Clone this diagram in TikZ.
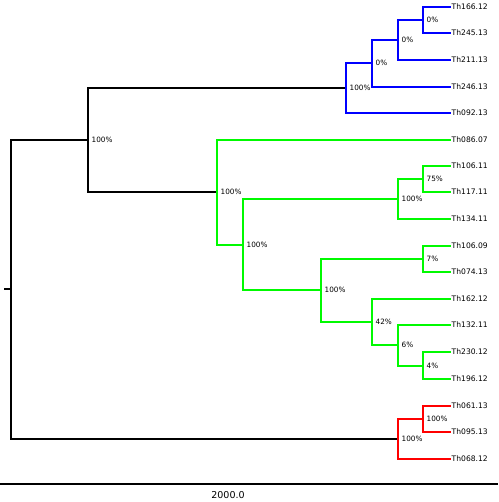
\documentclass[tikz,border=0pt]{standalone}
\usepackage{fontspec}
\setmainfont{DejaVu Sans}
\usepackage{tikz}
\usetikzlibrary{positioning,calc}
\usepackage{xcolor}
\definecolor{cladeblue}{RGB}{0,0,255}
\definecolor{cladegreen}{RGB}{0,250,0}
\definecolor{cladered}{RGB}{255,0,0}

\begin{document}
\begin{tikzpicture}[x=1pt, y=-1pt, line width=1.4pt,
        leaf/.style={anchor=west, inner sep=1pt, font=\fontsize{7.6}{9}\selectfont},
        pct/.style={anchor=west, inner sep=0pt, xshift=3pt, font=\fontsize{7.3}{8}\selectfont},
        elbow/.style={line cap=rect}]
        \useasboundingbox (0,0) rectangle (498,502);
        % leaves
        \node[leaf] (l1) at (450,7) {Th166.12};
        \node[leaf] (l2) at (450,33) {Th245.13};
        \node[leaf] (l3) at (450,60) {Th211.13};
        \node[leaf] (l4) at (450,87) {Th246.13};
        \node[leaf] (l5) at (450,113) {Th092.13};
        \node[leaf] (l6) at (450,140) {Th086.07};
        \node[leaf] (l7) at (450,166) {Th106.11};
        \node[leaf] (l8) at (450,192) {Th117.11};
        \node[leaf] (l9) at (450,219) {Th134.11};
        \node[leaf] (l10) at (450,246) {Th106.09};
        \node[leaf] (l11) at (450,272) {Th074.13};
        \node[leaf] (l12) at (450,299) {Th162.12};
        \node[leaf] (l13) at (450,325) {Th132.11};
        \node[leaf] (l14) at (450,352) {Th230.12};
        \node[leaf] (l15) at (450,379) {Th196.12};
        \node[leaf] (l16) at (450,406) {Th061.13};
        \node[leaf] (l17) at (450,432) {Th095.13};
        \node[leaf] (l18) at (450,459) {Th068.12};
        % inner nodes
        \coordinate (b4) at (423,20);
        \coordinate (b3) at (398,40);
        \coordinate (b2) at (372,63);
        \coordinate (b1) at (346,88);
        \coordinate (g5) at (423,179);
        \coordinate (g4) at (398,199);
        \coordinate (g8) at (423,259);
        \coordinate (g11) at (423,366);
        \coordinate (g10) at (398,345);
        \coordinate (g9) at (372,322);
        \coordinate (g7) at (321,290);
        \coordinate (g3) at (243,245);
        \coordinate (g1) at (217,192);
        \coordinate (top) at (88,140);
        \coordinate (r2) at (423,419);
        \coordinate (r1) at (398,439);
        \coordinate (root) at (11,289);
        \coordinate (stub) at (5,289);
        % backbone
        \draw[black, elbow] (root) |- (top) (root) |- (r1)
            (top) |- (b1) (top) |- (g1) (stub) -- (root);
        % blue clade
        \draw[cladeblue, elbow] (b4) |- (l1.west) (b4) |- (l2.west)
            (b3) |- (b4) (b3) |- (l3.west)
            (b2) |- (b3) (b2) |- (l4.west)
            (b1) |- (b2) (b1) |- (l5.west);
        % green clade
        \draw[cladegreen, elbow] (g5) |- (l7.west) (g5) |- (l8.west)
            (g4) |- (g5) (g4) |- (l9.west)
            (g8) |- (l10.west) (g8) |- (l11.west)
            (g11) |- (l14.west) (g11) |- (l15.west)
            (g10) |- (l13.west) (g10) |- (g11)
            (g9) |- (l12.west) (g9) |- (g10)
            (g7) |- (g8) (g7) |- (g9)
            (g3) |- (g4) (g3) |- (g7)
            (g1) |- (l6.west) (g1) |- (g3);
        % red clade
        \draw[cladered, elbow] (r2) |- (l16.west) (r2) |- (l17.west)
            (r1) |- (r2) (r1) |- (l18.west);
        % support values
        \node[pct] (p1) at (b4) {0\%};
        \node[pct] (p2) at (b3) {0\%};
        \node[pct] (p3) at (b2) {0\%};
        \node[pct] (p4) at (b1) {100\%};
        \node[pct] (p5) at (g5) {75\%};
        \node[pct] (p6) at (g4) {100\%};
        \node[pct] (p7) at (g8) {7\%};
        \node[pct] (p8) at (g11) {4\%};
        \node[pct] (p9) at (g10) {6\%};
        \node[pct] (p10) at (g9) {42\%};
        \node[pct] (p11) at (g7) {100\%};
        \node[pct] (p12) at (g3) {100\%};
        \node[pct] (p13) at (g1) {100\%};
        \node[pct] (p14) at (top) {100\%};
        \node[pct] (p15) at (r2) {100\%};
        \node[pct] (p16) at (r1) {100\%};
        % scale bar
        \draw[black, line width=1.2pt] (0,484) -- (498,484);
        \node[font=\fontsize{9.5}{11}\selectfont] (scale) at (228,495) {2000.0};
\end{tikzpicture}
\end{document}
